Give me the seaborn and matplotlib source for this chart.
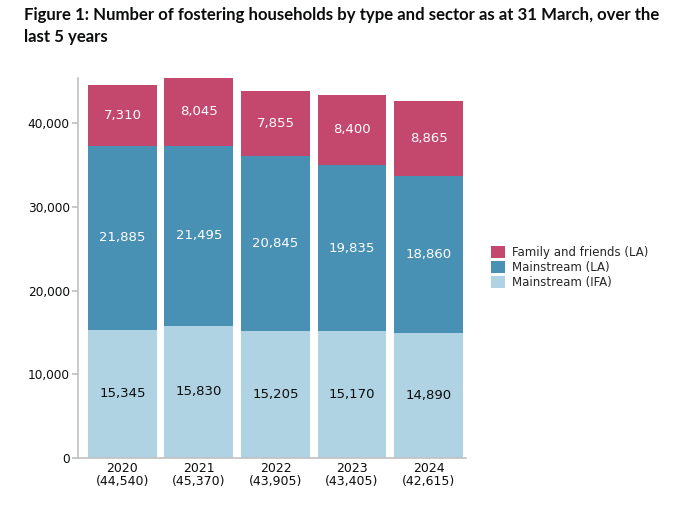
import pandas as pd
import seaborn as sns
import matplotlib.pyplot as plt
from matplotlib.patches import Patch

# Data
years = ["2020", "2021", "2022", "2023", "2024"]
totals = [44540, 45370, 43905, 43405, 42615]
mainstream_ifa = [15345, 15830, 15205, 15170, 14890]
mainstream_la = [21885, 21495, 20845, 19835, 18860]
family_friends_la = [7310, 8045, 7855, 8400, 8865]

series_names = ["Mainstream (IFA)", "Mainstream (LA)", "Family and friends (LA)"]
colours = {"Mainstream (IFA)": "#b0d3e3",
           "Mainstream (LA)": "#4890b4",
           "Family and friends (LA)": "#c4476d"}
label_colours = {"Mainstream (IFA)": "#0b0c0c",
                 "Mainstream (LA)": "white",
                 "Family and friends (LA)": "white"}

labels = [f"{y}\n({t:,})" for y, t in zip(years, totals)]

df = pd.DataFrame({"label": labels,
                   "Mainstream (IFA)": mainstream_ifa,
                   "Mainstream (LA)": mainstream_la,
                   "Family and friends (LA)": family_friends_la})

# cumulative tops of each stacked segment
tops = df[series_names].cumsum(axis=1)
bases = tops - df[series_names]

sns.set_theme(style="white")
plt.rcParams['font.family'] = ['DejaVu Sans']

fig = plt.figure(figsize=(6.8, 5.07), dpi=100)
ax = fig.add_axes([0.1147, 0.0966, 0.5706, 0.749])

# draw tallest first so lower segments sit on top
for name in reversed(series_names):
    sns.barplot(x=df["label"], y=tops[name], color=colours[name],
                width=0.9, ax=ax, saturation=1, edgecolor="none",
                errorbar=None)

for name in series_names:
    for i, (v, b) in enumerate(zip(df[name], bases[name])):
        ax.text(i, b + v / 2, f"{v:,}", ha="center", va="center",
                fontsize=9.5, color=label_colours[name])

ax.set_xlim(-0.58, 4.49)
ax.set_ylim(0, 45370)
ax.set_yticks([0, 10000, 20000, 30000, 40000])
ax.set_yticklabels(["0", "10,000", "20,000", "30,000", "40,000"])
ax.tick_params(axis="y", labelsize=8.7, colors="#0b0c0c", length=4,
               color="#bfc1c3", left=True, pad=2)
ax.tick_params(axis="x", labelsize=9, colors="#0b0c0c", length=0, pad=3)
for lbl in ax.get_xticklabels():
    lbl.set_linespacing(0.95)
sns.despine(ax=ax)
for side in ["left", "bottom"]:
    ax.spines[side].set_color("#bfc1c3")
    ax.spines[side].set_linewidth(1.2)
ax.set_xlabel("")
ax.set_ylabel("")
ax.grid(False)

handles = [Patch(facecolor=colours[n], edgecolor="none") for n in reversed(series_names)]
fig.legend(handles, list(reversed(series_names)), loc="upper left",
           bbox_to_anchor=(0.715, 0.525), frameon=False, fontsize=8.5,
           handlelength=1.2, handleheight=1.2, handletextpad=0.6,
           labelspacing=0.2, borderaxespad=0)

fig.text(0.035, 0.986, "Figure 1: Number of fostering households by type and sector as at 31 March, over the\nlast 5 years",
         ha="left", va="top", fontsize=12.1, fontweight="bold", color="#0b0c0c",
         family=["Lato", "DejaVu Sans"], linespacing=1.45)

fig.savefig("out.png", dpi=100)
